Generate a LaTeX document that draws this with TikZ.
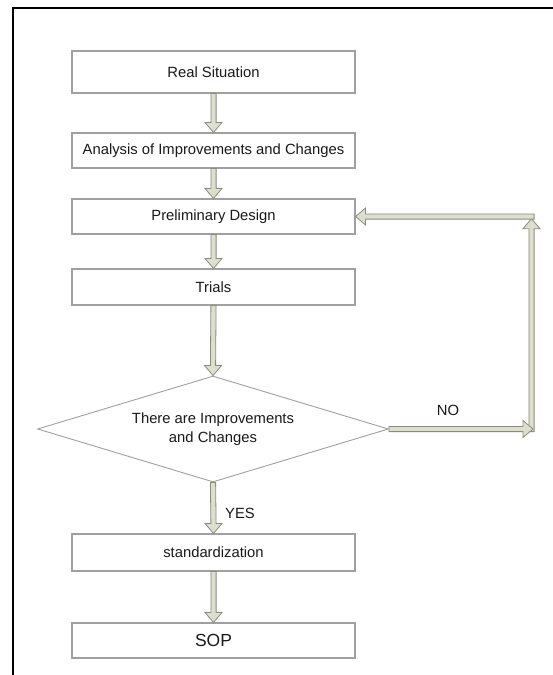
\documentclass[tikz,border=0pt]{standalone}
\usepackage{fontspec}
\setmainfont{Liberation Sans}
\usetikzlibrary{shapes.geometric,calc}
\definecolor{arrfill}{RGB}{221,222,206}
\definecolor{arrline}{RGB}{138,140,126}
\definecolor{boxline}{RGB}{160,160,160}
\definecolor{txt}{RGB}{25,25,25}
\def\bsw{2.6}
\def\bhw{8.5}
\def\bhl{10}
\newcommand{\blkdown}[2]{\filldraw[blk] ($(#1)+(-\bsw,0)$) -- ($(#2)+(-\bsw,-\bhl)$) -- ($(#2)+(-\bhw,-\bhl)$) -- (#2) -- ($(#2)+(\bhw,-\bhl)$) -- ($(#2)+(\bsw,-\bhl)$) -- ($(#1)+(\bsw,0)$) -- cycle;}
\newcommand{\blkup}[2]{\filldraw[blk] ($(#1)+(-\bsw,0)$) -- ($(#2)+(-\bsw,\bhl)$) -- ($(#2)+(-\bhw,\bhl)$) -- (#2) -- ($(#2)+(\bhw,\bhl)$) -- ($(#2)+(\bsw,\bhl)$) -- ($(#1)+(\bsw,0)$) -- cycle;}
\newcommand{\blkleft}[2]{\filldraw[blk] ($(#1)+(0,-\bsw)$) -- ($(#2)+(\bhl,-\bsw)$) -- ($(#2)+(\bhl,-\bhw)$) -- (#2) -- ($(#2)+(\bhl,\bhw)$) -- ($(#2)+(\bhl,\bsw)$) -- ($(#1)+(0,\bsw)$) -- cycle;}
\newcommand{\blkright}[2]{\filldraw[blk] ($(#1)+(0,-\bsw)$) -- ($(#2)+(-\bhl,-\bsw)$) -- ($(#2)+(-\bhl,-\bhw)$) -- (#2) -- ($(#2)+(-\bhl,\bhw)$) -- ($(#2)+(-\bhl,\bsw)$) -- ($(#1)+(0,\bsw)$) -- cycle;}
\tikzset{
  blk/.style={fill=arrfill, draw=arrline, line width=0.8pt, line join=miter},
  stepbox/.style={draw=boxline, fill=white, line width=1.1pt, minimum width=283pt, inner sep=0pt, text=txt, font=\fontsize{14.8}{18}\selectfont},
  decide/.style={diamond, draw=boxline, fill=white, line width=0.9pt, minimum width=351pt, minimum height=106pt, inner sep=0pt, aspect=3.3, text=txt, align=center, font=\fontsize{14.8}{19}\selectfont},
  lbl/.style={text=txt, inner sep=0pt, font=\fontsize{14.8}{18}\selectfont}
}
\begin{document}
\begin{tikzpicture}[x=1pt,y=-1pt]
\useasboundingbox (0,0) rectangle (552,675);
\fill[white] (0,0) rectangle (552,675);
\draw[line width=2.6pt, black] (13,690) -- (13,8) -- (570,8);

\node[stepbox, minimum height=42pt] (rs) at (213.5,72) {Real Situation};
\node[stepbox, minimum height=35pt] (an) at (213.5,150.5) {Analysis of Improvements and Changes};
\node[stepbox, minimum height=35pt] (pd) at (213.5,216.5) {Preliminary Design};
\node[stepbox, minimum height=36pt] (tr) at (213.5,287) {Trials};
\node[decide] (dc) at (213,429) {There are Improvements\\and Changes};
\node[stepbox, minimum height=37pt] (st) at (213.5,552.5) {standardization};
\node[stepbox, minimum height=35pt, font=\fontsize{17.5}{20}\selectfont] (sop) at (213.5,640.5) {SOP};

\coordinate (lb) at (531.5,429);
\coordinate (lt) at (lb |- pd.east);
\coordinate (vbot) at ($(lb)+(0,2.6)$);
\coordinate (vtip) at ($(lt)+(0,2.2)$);
\coordinate (hstart) at ($(lt)+(2.6,0)$);
\coordinate (ntip) at ($(lb)+(1.5,0)$);

\blkdown{rs.south}{an.north}
\blkdown{an.south}{pd.north}
\blkdown{pd.south}{tr.north}
\blkdown{tr.south}{dc.north}
\blkdown{dc.south}{st.north}
\blkdown{st.south}{sop.north}

\blkup{vbot}{vtip}
\blkleft{hstart}{pd.east}
\blkright{dc.east}{ntip}

\node[lbl] (no) at (448,410) {NO};
\node[lbl] (yes) at (240,513) {YES};
\end{tikzpicture}
\end{document}
